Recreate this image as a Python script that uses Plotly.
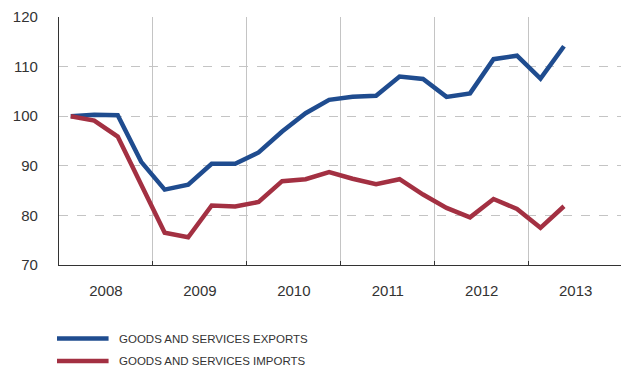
import plotly.graph_objects as go

years = [2008, 2009, 2010, 2011, 2012, 2013]
quarters = ["2008Q1","2008Q2","2008Q3","2008Q4","2009Q1","2009Q2","2009Q3","2009Q4",
            "2010Q1","2010Q2","2010Q3","2010Q4","2011Q1","2011Q2","2011Q3","2011Q4",
            "2012Q1","2012Q2","2012Q3","2012Q4","2013Q1","2013Q2"]
exports = [100.0, 100.3, 100.2, 90.8, 85.2, 86.2, 90.4, 90.4, 92.7, 96.9, 100.6,
           103.3, 103.9, 104.1, 108.0, 107.5, 103.9, 104.6, 111.5, 112.2, 107.6, 114.1]
imports = [100.0, 99.1, 95.9, 86.2, 76.5, 75.6, 82.0, 81.8, 82.7, 86.9, 87.3,
           88.75, 87.4, 86.3, 87.3, 84.2, 81.5, 79.6, 83.3, 81.3, 77.5, 81.85]
series_names = ["GOODS AND SERVICES EXPORTS", "GOODS AND SERVICES IMPORTS"]
colors = ["#1f4c8f", "#a33042"]

def qpos(q):
    y = int(q[:4]); n = int(q[-1])
    return y + (n - 0.5) / 4

xs = [qpos(q) for q in quarters]

fig = go.Figure()
for name, vals, c in zip(series_names, [exports, imports], colors):
    fig.add_trace(go.Scatter(x=xs, y=vals, mode="lines", name=name,
                             line=dict(color=c, width=4.5), showlegend=False))

# dummy trace for secondary x axis (year boundaries)
fig.add_trace(go.Scatter(x=[2008], y=[None], xaxis="x2", showlegend=False, hoverinfo="skip"))

W, H = 621, 374
left, top, bottom = 58.7, 16.7, 108.7
x_end = 2008 + (W - left) / 94.0

fig.update_layout(
    width=W, height=H,
    margin=dict(l=left, r=0, t=top, b=bottom, pad=0),
    plot_bgcolor="white", paper_bgcolor="white",
    font=dict(family="Liberation Sans, Arial, sans-serif", color="#333333"),
    xaxis=dict(range=[2008, x_end], tickvals=[y + 0.5 for y in years],
               ticktext=[str(y) for y in years], showgrid=False, zeroline=False,
               showline=True, linecolor="#333333", linewidth=1.2,
               ticks="", tickfont=dict(size=15, color="#333333"),
               ticklabelstandoff=12),
    xaxis2=dict(range=[2008, x_end], overlaying="x", side="bottom",
                tickvals=years[1:], showticklabels=False, showgrid=True,
                gridcolor="#c4c4c4", gridwidth=1, ticks="inside", ticklen=4,
                tickcolor="#333333", zeroline=False, showline=False),
    yaxis=dict(range=[70, 120], dtick=10, showgrid=True, gridcolor="#c4c4c4",
               griddash="dash", gridwidth=1, zeroline=False, showline=True,
               linecolor="#333333", linewidth=1.2, ticks="",
               tickfont=dict(size=15, color="#333333"), ticklabelstandoff=17),
)

# manual legend
leg_y = [339, 361.5]
for name, c, yy in zip(series_names, colors, leg_y):
    fig.add_shape(type="line", xref="paper", yref="paper",
                  x0=(56.7 - left) / (W - left), x1=(108.3 - left) / (W - left),
                  y0=(H - yy - bottom) / (H - top - bottom),
                  y1=(H - yy - bottom) / (H - top - bottom),
                  line=dict(color=c, width=4.5))
    fig.add_annotation(xref="paper", yref="paper",
                       x=(117 - left) / (W - left),
                       y=(H - yy - bottom) / (H - top - bottom),
                       text=name, showarrow=False, xanchor="left", yanchor="middle",
                       font=dict(family="Liberation Sans Narrow, Liberation Sans, sans-serif",
                                 size=11.5, color="#333333"))

fig.write_html("out.html")
